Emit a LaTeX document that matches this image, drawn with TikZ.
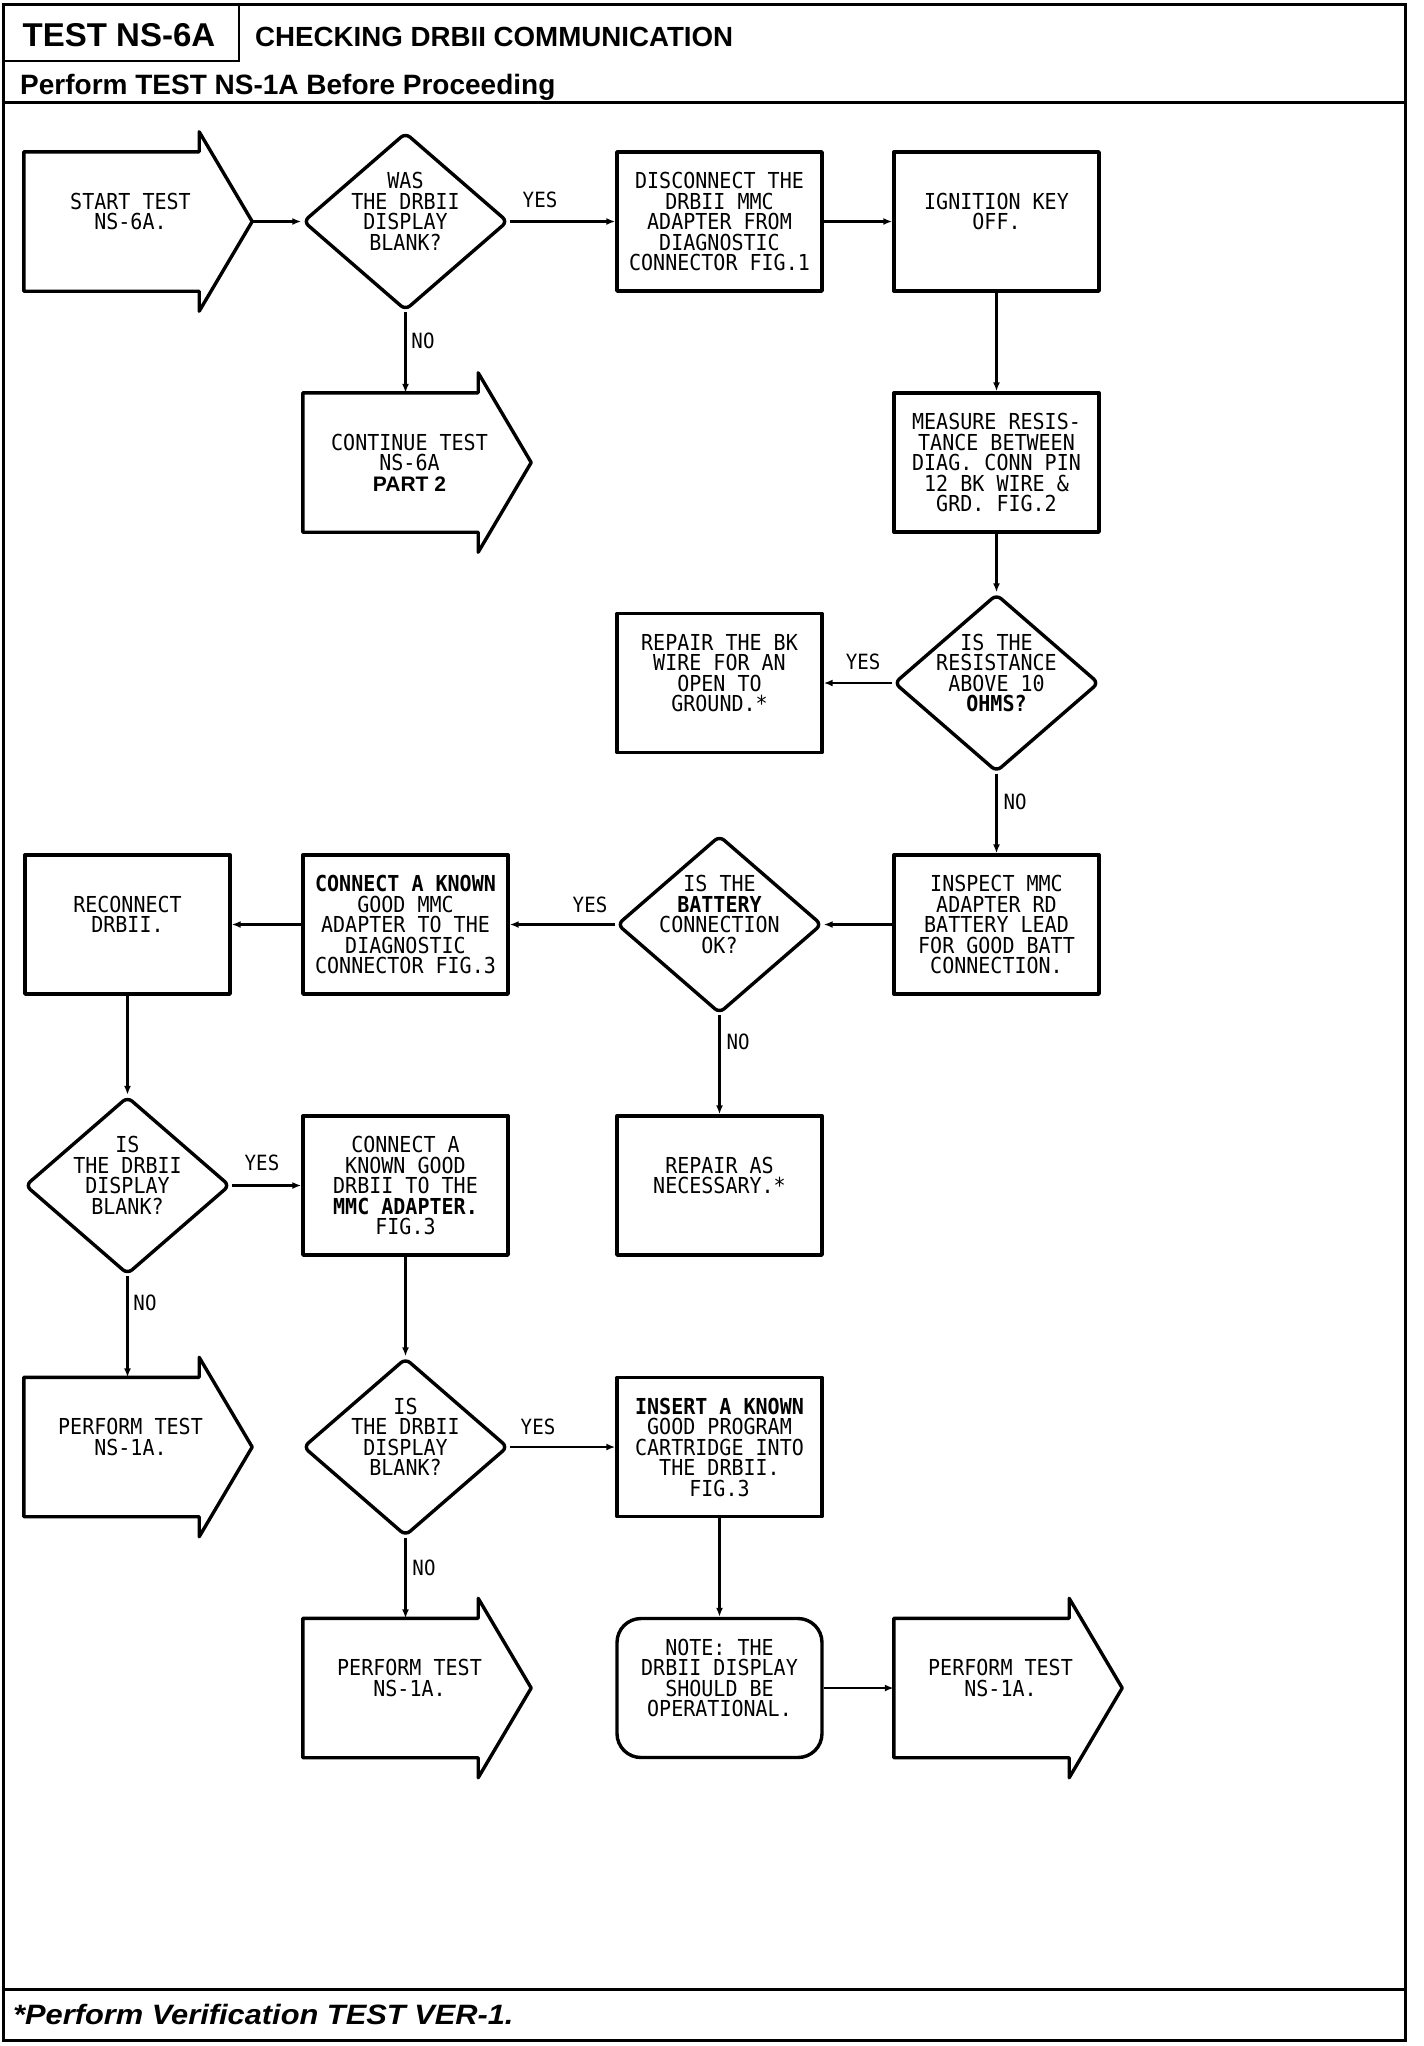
\documentclass[tikz,border=0pt]{standalone}
\usepackage{fontspec}
\setmainfont{Liberation Sans}
\newfontfamily\plotfont[FakeStretch=0.91]{DejaVu Sans Mono}
\newfontfamily\footfont[FakeStretch=1.1]{Liberation Sans}
\usetikzlibrary{arrows.meta,shapes.geometric,calc}
\tikzset{
  frameline/.style={line width=3pt},
  shapeline/.style={line width=3.4pt, line join=round},
  plotfnt/.style={font=\plotfont\fontsize{22}{20.5}\selectfont},
  stepbox/.style={draw, shapeline, rectangle, minimum width=205pt, minimum height=139pt,
    inner sep=0pt, align=center, plotfnt},
  notebox/.style={stepbox, rounded corners=24pt},
  decision/.style={draw, shapeline, diamond, minimum width=205pt, minimum height=178pt,
    inner sep=0pt, rounded corners=6pt},
  arrowbody/.style={rectangle, minimum width=175pt, minimum height=139pt, inner sep=0pt},
  ptext/.style={align=center, inner sep=0pt, plotfnt},
  conn/.style={line width=2.8pt, -{Latex[length=9pt,width=7pt]}},
  ans/.style={font=\plotfont\fontsize{21}{21}\selectfont, inner sep=0pt},
}
\newcommand{\blockarrow}[1]{%
  \draw[shapeline] (#1.north west) -- (#1.north east) -- ($(#1.north east)+(0,-20)$)
    -- ($(#1.east)+(53,0)$) -- ($(#1.south east)+(0,20)$) -- (#1.south east)
    -- (#1.south west) -- cycle;}
\begin{document}
\begin{tikzpicture}[x=1pt,y=-1pt]
\useasboundingbox (0,0) rectangle (1424,2046);
% frame and header
\draw[frameline] (3.5,4) rectangle (1405,2040);
\draw[line width=2pt] (3.5,61) -- (239,61) -- (239,4);
\draw[line width=3.5pt] (3.5,102.7) -- (1405,102.7);
\node[font=\bfseries\fontsize{33}{36}\selectfont, anchor=base, inner sep=0pt] (testid) at (119,46) {TEST NS-6A};
\node[font=\bfseries\fontsize{27.7}{30}\selectfont, anchor=base west, inner sep=0pt] (ttl) at (255,46) {CHECKING DRBII COMMUNICATION};
\node[font=\bfseries\fontsize{28}{30}\selectfont, anchor=base west, inner sep=0pt] (pre) at (20,94) {Perform TEST NS-1A Before Proceeding};
% footer
\draw[line width=3pt] (3.5,1989) -- (1405,1989);
\node[font=\footfont\bfseries\itshape\fontsize{28}{30}\selectfont, anchor=base west, inner sep=0pt] (foot) at (13,2024) {*Perform Verification TEST VER-1.};

% row 1
\node[arrowbody, label={[ptext,xshift=19pt]center:{START TEST\\NS-6A.\\\mbox{}}}] (start) at (111.5,221.5) {};
\blockarrow{start}
\coordinate (starttip) at ($(start.east)+(53,0)$);
\node[decision, label={[ptext]center:{WAS\\THE DRBII\\DISPLAY\\BLANK?\\\mbox{}}}] (d1) at (405.5,221.5) {};
\node[stepbox] (disc) at (719.5,221.5) {DISCONNECT THE\\DRBII MMC\\ADAPTER FROM\\DIAGNOSTIC\\CONNECTOR FIG.1};
\node[stepbox] (ign) at (996.5,221.5) {IGNITION KEY\\OFF.\\\mbox{}};
% row 2
\node[arrowbody, label={[ptext,xshift=19pt]center:{CONTINUE TEST\\NS-6A\\{\normalfont\bfseries\fontsize{21}{20.5}\selectfont PART 2}}}] (cont) at (390.5,462.5) {};
\blockarrow{cont}
\node[stepbox] (meas) at (996.5,462.5) {MEASURE RESIS-\\TANCE BETWEEN\\DIAG. CONN PIN\\12 BK WIRE \&\\GRD. FIG.2};
% row 3
\node[decision, label={[ptext]center:{IS THE\\RESISTANCE\\ABOVE 10\\\textbf{OHMS?}\\\mbox{}}}] (d2) at (996.5,683) {};
\node[stepbox] (repbk) at (719.5,683) {REPAIR THE BK\\WIRE FOR AN\\OPEN TO\\GROUND.*\\\mbox{}};
% row 4
\node[stepbox] (insp) at (996.5,924.5) {INSPECT MMC\\ADAPTER RD\\BATTERY LEAD\\FOR GOOD BATT\\CONNECTION.};
\node[decision, label={[ptext]center:{IS THE\\\textbf{BATTERY}\\CONNECTION\\OK?\\\mbox{}}}] (d3) at (719.5,924.5) {};
\node[stepbox] (connmmc) at (405.5,924.5) {\textbf{CONNECT A KNOWN}\\GOOD MMC\\ADAPTER TO THE\\DIAGNOSTIC\\CONNECTOR FIG.3};
\node[stepbox] (recon) at (127.5,924.5) {RECONNECT\\DRBII.\\\mbox{}};
% row 5
\node[decision, label={[ptext]center:{IS\\THE DRBII\\DISPLAY\\BLANK?\\\mbox{}}}] (d4) at (127.5,1185.5) {};
\node[stepbox] (conndrb) at (405.5,1185.5) {CONNECT A\\KNOWN GOOD\\DRBII TO THE\\\textbf{MMC ADAPTER.}\\FIG.3};
\node[stepbox] (repas) at (719.5,1185.5) {REPAIR AS\\NECESSARY.*\\\mbox{}};
% row 6
\node[arrowbody, label={[ptext,xshift=19pt]center:{PERFORM TEST\\NS-1A.\\\mbox{}}}] (perf1) at (111.5,1447) {};
\blockarrow{perf1}
\node[decision, label={[ptext]center:{IS\\THE DRBII\\DISPLAY\\BLANK?\\\mbox{}}}] (d5) at (405.5,1447) {};
\node[stepbox] (insert) at (719.5,1447) {\textbf{INSERT A KNOWN}\\GOOD PROGRAM\\CARTRIDGE INTO\\THE DRBII.\\FIG.3};
% row 7
\node[arrowbody, label={[ptext,xshift=19pt]center:{PERFORM TEST\\NS-1A.\\\mbox{}}}] (perf2) at (390.5,1688) {};
\blockarrow{perf2}
\node[notebox] (note) at (719.5,1688) {NOTE: THE\\DRBII DISPLAY\\SHOULD BE\\OPERATIONAL.\\\mbox{}};
\node[arrowbody, label={[ptext,xshift=19pt]center:{PERFORM TEST\\NS-1A.\\\mbox{}}}] (perf3) at (981.5,1688) {};
\blockarrow{perf3}

% connectors
\draw[conn] (starttip) -- (d1.west);
\draw[conn] (d1.east) -- (disc.west);
\draw[conn] (disc.east) -- (ign.west);
\draw[conn] (ign.south) -- (meas.north);
\draw[conn] (d1.south) -- (d1.south |- cont.north);
\draw[conn] (meas.south) -- (d2.north);
\draw[conn] (d2.west) -- (repbk.east);
\draw[conn] (d2.south) -- (insp.north);
\draw[conn] (insp.west) -- (d3.east);
\draw[conn] (d3.west) -- (connmmc.east);
\draw[conn] (d3.south) -- (repas.north);
\draw[conn] (connmmc.west) -- (recon.east);
\draw[conn] (recon.south) -- (d4.north);
\draw[conn] (d4.east) -- (conndrb.west);
\draw[conn] (d4.south) -- (d4.south |- perf1.north);
\draw[conn] (conndrb.south) -- (d5.north);
\draw[conn] (d5.east) -- (insert.west);
\draw[conn] (d5.south) -- (d5.south |- perf2.north);
\draw[conn] (insert.south) -- (note.north);
\draw[conn] (note.east) -- (perf3.west);

% answer labels
\node[ans] (yes1) at (540,200) {YES};
\node[ans] (no1) at (423,341) {NO};
\node[ans] (yes2) at (863,662) {YES};
\node[ans] (no2) at (1015,802) {NO};
\node[ans] (yes3) at (590,905) {YES};
\node[ans] (no3) at (738,1042) {NO};
\node[ans] (yes4) at (262,1163) {YES};
\node[ans] (no4) at (145,1303) {NO};
\node[ans] (yes5) at (538,1427) {YES};
\node[ans] (no5) at (424,1568) {NO};
\end{tikzpicture}
\end{document}
